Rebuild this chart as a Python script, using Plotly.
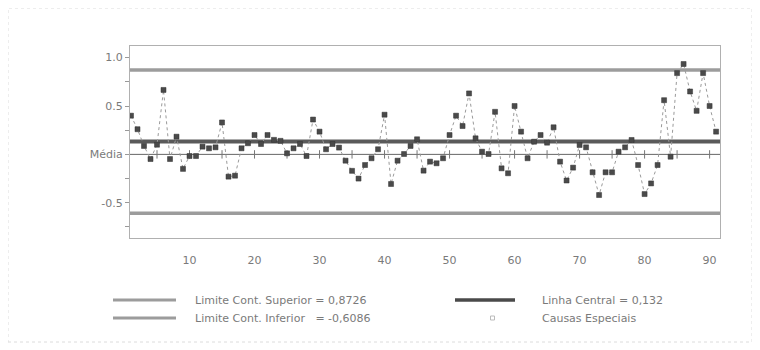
import plotly.graph_objects as go

# ---- data ----
sample_no = list(range(1, 92))
values = [0.40, 0.26, 0.087, -0.048, 0.10, 0.666, -0.048, 0.183, -0.15, -0.017,
          -0.017, 0.08, 0.063, 0.073, 0.33, -0.23, -0.22, 0.063, 0.115, 0.2,
          0.107, 0.2, 0.15, 0.14, 0.011, 0.063, 0.107, -0.017, 0.36, 0.235,
          0.053, 0.107, 0.07, -0.065, -0.17, -0.25, -0.11, -0.04, 0.053, 0.41,
          -0.306, -0.065, 0.004, 0.087, 0.156, -0.168, -0.075, -0.092, -0.04, 0.2,
          0.40, 0.293, 0.63, 0.166, 0.028, 0.004, 0.44, -0.144, -0.195, 0.50,
          0.235, -0.04, 0.131, 0.2, 0.121, 0.28, -0.075, -0.27, -0.137, 0.097,
          0.073, -0.185, -0.42, -0.185, -0.185, 0.028, 0.073, 0.149, -0.11, -0.41,
          -0.30, -0.11, 0.56, -0.024, 0.84, 0.934, 0.65, 0.45, 0.84, 0.50, 0.235]
ucl = 0.8726
center = 0.132
lcl = -0.6086
mean_level = 0.0
x_ticks = [10, 20, 30, 40, 50, 60, 70, 80, 90]
x_minor = list(range(5, 91, 5))
y_ticks = [1.0, 0.5, 0.0, -0.5]
y_tick_text = ["1.0", "0.5", "Média", "-0.5"]
legend_labels = ["Limite Cont. Superior = 0,8726",
                 "Limite Cont. Inferior\u00a0\u00a0\u00a0= -0,6086",
                 "Linha Central = 0,132",
                 "Causas Especiais"]

# page body has an 8px default margin -> figure is drawn 8px in from the window edge
OFF = 8
W, H = 760 - OFF, 350 - OFF
ML, MT = 130 - OFF, 46 - OFF
PW, PH = 590, 192
MR = W - ML - PW
MB = H - MT - PH


def px(x):
    return (x - OFF - ML) / PW


def py(y):
    return (MT + PH - (y - OFF)) / PH


FONT = "DejaVu Sans, Verdana, sans-serif"
GREY_TXT = "#7a7a7a"

fig = go.Figure()

# tick marks on the zero line
fig.add_trace(go.Scatter(
    x=x_minor, y=[mean_level] * len(x_minor), mode="markers",
    marker=dict(symbol="line-ns-open", size=6, color="#777",
                line=dict(color="#777", width=1)),
    hoverinfo="skip", showlegend=False))

# data series
fig.add_trace(go.Scatter(
    x=sample_no, y=values, mode="lines+markers",
    line=dict(color="#9a9a9a", width=1, dash="dot"),
    marker=dict(symbol="square", size=5, color="#4a4a4a",
                line=dict(color="#333", width=0.5)),
    showlegend=False))

shapes = []
# control lines
shapes.append(dict(type="line", xref="paper", yref="y", x0=0, x1=1, y0=ucl, y1=ucl,
                   line=dict(color="#9c9c9c", width=3.5), layer="below"))
shapes.append(dict(type="line", xref="paper", yref="y", x0=0, x1=1, y0=lcl, y1=lcl,
                   line=dict(color="#9c9c9c", width=3.5), layer="below"))
shapes.append(dict(type="line", xref="paper", yref="y", x0=0, x1=1, y0=center, y1=center,
                   line=dict(color="#5a5a5a", width=4), layer="below"))
shapes.append(dict(type="line", xref="paper", yref="y", x0=0, x1=1, y0=mean_level, y1=mean_level,
                   line=dict(color="#666", width=1), layer="below"))
# outer frame
shapes.append(dict(type="rect", xref="paper", yref="paper",
                   x0=px(8), x1=px(752), y0=py(342), y1=py(8),
                   line=dict(color="#dcdcdc", width=1, dash="dot")))

# legend samples
shapes.append(dict(type="line", xref="paper", yref="paper", x0=px(113), x1=px(176),
                   y0=py(300), y1=py(300), line=dict(color="#9c9c9c", width=3)))
shapes.append(dict(type="line", xref="paper", yref="paper", x0=px(113), x1=px(176),
                   y0=py(318), y1=py(318), line=dict(color="#9c9c9c", width=3)))
shapes.append(dict(type="line", xref="paper", yref="paper", x0=px(455), x1=px(515),
                   y0=py(300), y1=py(300), line=dict(color="#4a4a4a", width=3.5)))
shapes.append(dict(type="rect", xref="paper", yref="paper", x0=px(490.5), x1=px(494.5),
                   y0=py(320), y1=py(316), line=dict(color="#bbb", width=1),
                   fillcolor="white"))

annotations = []
for (xx, yy, t) in [(193, 300, legend_labels[0]), (193, 318, legend_labels[1]),
                    (540, 300, legend_labels[2]), (540, 318, legend_labels[3])]:
    annotations.append(dict(xref="paper", yref="paper", x=px(xx), y=py(yy), text=t,
                            showarrow=False, xanchor="left", yanchor="middle",
                            font=dict(family=FONT, size=11, color=GREY_TXT)))

fig.update_layout(
    width=W, height=H,
    margin=dict(l=ML, r=MR, t=MT, b=MB, pad=0),
    paper_bgcolor="white", plot_bgcolor="white",
    shapes=shapes, annotations=annotations,
    showlegend=False,
    xaxis=dict(range=[0.846, 91.6], tickvals=x_ticks,
               ticks="", showgrid=False, zeroline=False,
               showline=True, linecolor="#b0b0b0", linewidth=1, mirror=True,
               tickfont=dict(family=FONT, size=11, color=GREY_TXT),
               ticklabelstandoff=12),
    yaxis=dict(range=[-0.864, 1.12], tickvals=y_ticks, ticktext=y_tick_text,
               ticks="outside", ticklen=4, tickcolor="#999",
               minor=dict(tickvals=[0.75, 0.25, -0.25, -0.75], ticks="outside",
                          ticklen=4, tickcolor="#999"),
               showgrid=False, zeroline=False,
               showline=True, linecolor="#b0b0b0", linewidth=1, mirror=True,
               tickfont=dict(family=FONT, size=11, color=GREY_TXT)),
)

fig.write_html("out.html")
